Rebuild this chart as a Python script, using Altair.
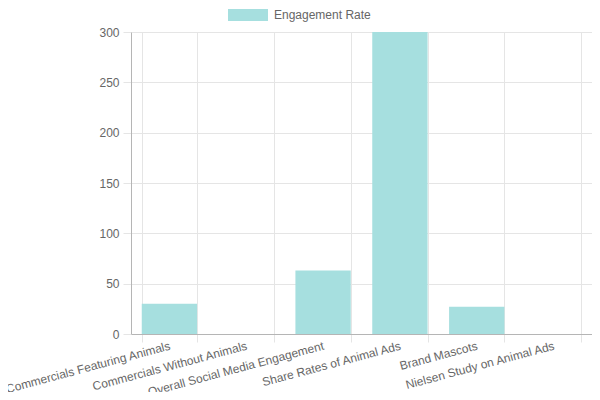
import altair as alt
import pandas as pd

categories = [
    "Commercials Featuring Animals",
    "Commercials Without Animals",
    "Overall Social Media Engagement",
    "Share Rates of Animal Ads",
    "Brand Mascots",
    "Nielsen Study on Animal Ads",
]
engagement_rate = [30, 0, 63, 300, 27, 0]
series_name = "Engagement Rate"
y_ticks = [0, 50, 100, 150, 200, 250, 300]

df = pd.DataFrame({
    "category": categories,
    "value": engagement_rate,
    "series": [series_name] * len(categories),
})

font = "Liberation Sans"
grey = "#666666"

chart = alt.Chart(df).mark_bar(clip=True).encode(
    x=alt.X("category:N", sort=categories, title=None,
            scale=alt.Scale(paddingInner=0.28, paddingOuter=0.14),
            axis=alt.Axis(tickBand="extent", grid=True, gridColor="#e5e5e5",
                          tickColor="#e5e5e5", tickSize=8, domainColor="#b5b5b5",
                          labelAngle=-15, labelAlign="right", labelBaseline="middle",
                          labelPadding=3, labelFont=font, labelFontSize=12,
                          labelColor=grey, labelLimit=300)),
    y=alt.Y("value:Q", title=None,
            scale=alt.Scale(domain=[0, 300], nice=False),
            axis=alt.Axis(values=y_ticks, grid=True, gridColor="#e5e5e5",
                          tickColor="#e5e5e5", tickSize=8, domainColor="#b5b5b5",
                          labelPadding=4, labelFont=font, labelFontSize=12,
                          labelColor=grey)),
    color=alt.Color("series:N", title=None,
                    scale=alt.Scale(range=["#a6dfdf"]),
                    legend=alt.Legend(orient="none", legendX=97, legendY=-37,
                                      symbolType="M-1,-0.3H1V0.3H-1Z", symbolSize=1600,
                                      symbolOpacity=1, symbolStrokeWidth=0,
                                      labelFont=font, labelFontSize=12, labelColor=grey,
                                      labelOffset=6)),
).properties(
    width=461,
    height=302,
    autosize=alt.AutoSizeParams(type="none"),
    padding={"left": 123, "top": 24, "right": 0, "bottom": 58},
).configure_view(stroke="transparent")

chart.save("out.html", embed_options={"renderer": "svg", "actions": False})
